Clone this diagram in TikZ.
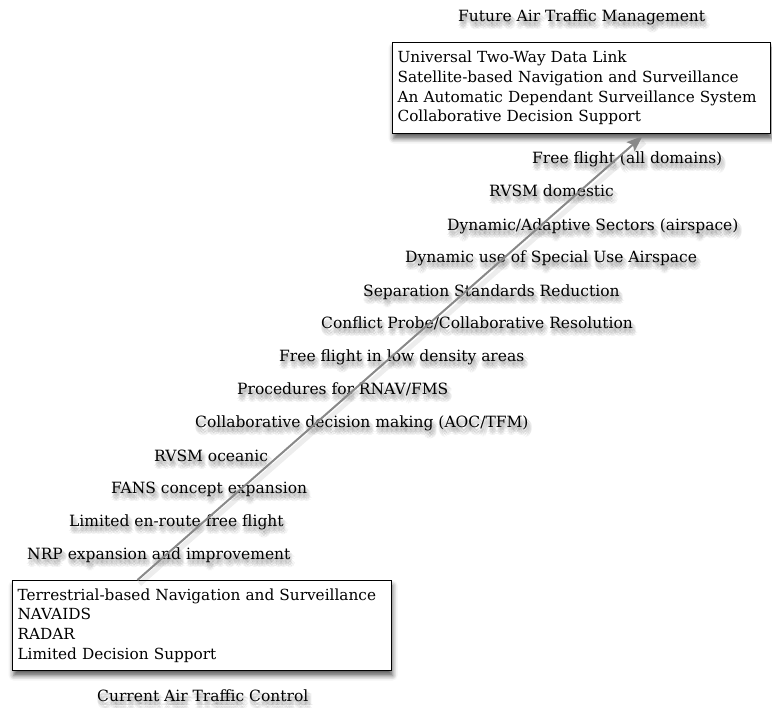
\documentclass[tikz,border=0pt]{standalone}
\usepackage{fontspec}
\setmainfont{DejaVu Serif}
\usetikzlibrary{calc,arrows.meta,shadows.blur}

\definecolor{arrowgrey}{RGB}{136,136,136}

\tikzset{
  txt/.style={font=\fontsize{15.5}{19.6}\selectfont, inner sep=0pt, anchor=base west},
  haze/.style={txt, text=black, opacity=0.05},
  panel/.style={draw=black, line width=1.1pt, fill=white, anchor=north west,
    inner xsep=5pt, inner ysep=0pt, align=left,
    font=\fontsize{15.3}{19.6}\selectfont,
    blur shadow={shadow xshift=1pt, shadow yshift=-5pt, shadow blur radius=5pt, shadow opacity=65}},
  trend/.style={draw=arrowgrey, line width=2pt,
    -{Stealth[length=16pt, width=12pt, inset=3pt]}},
  trendhaze/.style={draw=black, opacity=0.07, line width=5pt},
}

% a label with a soft shadow below it
\newcommand\milestone[4]{%
  \foreach \dx/\dy in {2/5, 0/4, 4/4, 0/7, 4/7, 2/2, 2/8, -1/5, 5/5, 1/6, 3/6, 1/3, 3/3}
    \node[haze] at (#2+\dx, #3+\dy) {#4};
  \node[txt] (#1) at (#2,#3) {#4};
}

\begin{document}
\begin{tikzpicture}[x=1pt, y=-1pt]
  \useasboundingbox (0,0) rectangle (772,708);

  % headings
  \milestone{future}{458}{22}{Future Air Traffic Management}
  \milestone{current}{97}{701}{Current Air Traffic Control}

  % the two states of the system
  \node[panel, text width=368pt, minimum height=91pt] (fbox) at (392,42)
    {Universal Two-Way Data Link\\
     Satellite-based Navigation and Surveillance\\
     An Automatic Dependant Surveillance System\\
     Collaborative Decision Support};
  \node[panel, text width=369pt, minimum height=90pt] (cbox) at (12,580)
    {Terrestrial-based Navigation and Surveillance\\
     NAVAIDS\\
     RADAR\\
     Limited Decision Support};

  % steps from current to future
  \milestone{s1}{532}{164}{Free flight (all domains)}
  \milestone{s2}{489}{197}{RVSM domestic}
  \milestone{s3}{447}{231}{Dynamic/Adaptive Sectors (airspace)}
  \milestone{s4}{405}{263}{Dynamic use of Special Use Airspace}
  \milestone{s5}{363}{297}{Separation Standards Reduction}
  \milestone{s6}{321}{329}{Conflict Probe/Collaborative Resolution}
  \milestone{s7}{279}{362}{Free flight in low density areas}
  \milestone{s8}{237}{395}{Procedures for RNAV/FMS}
  \milestone{s9}{195}{428}{Collaborative decision making (AOC/TFM)}
  \milestone{s10}{154}{462}{RVSM oceanic}
  \milestone{s11}{111}{494}{FANS concept expansion}
  \milestone{s12}{69}{527}{Limited en-route free flight}
  \milestone{s13}{27}{560}{NRP expansion and improvement}

  % transition arrow
  \coordinate (from) at ($(cbox.north west)!0.33!(cbox.north east)$);
  \coordinate (to) at ($(fbox.south west)!0.661!(fbox.south east)+(0,2)$);
  \draw[trendhaze] ($(from)+(2,4)$) -- ($(to)+(2,6)$);
  \draw[trend] (from) -- (to);
\end{tikzpicture}
\end{document}
